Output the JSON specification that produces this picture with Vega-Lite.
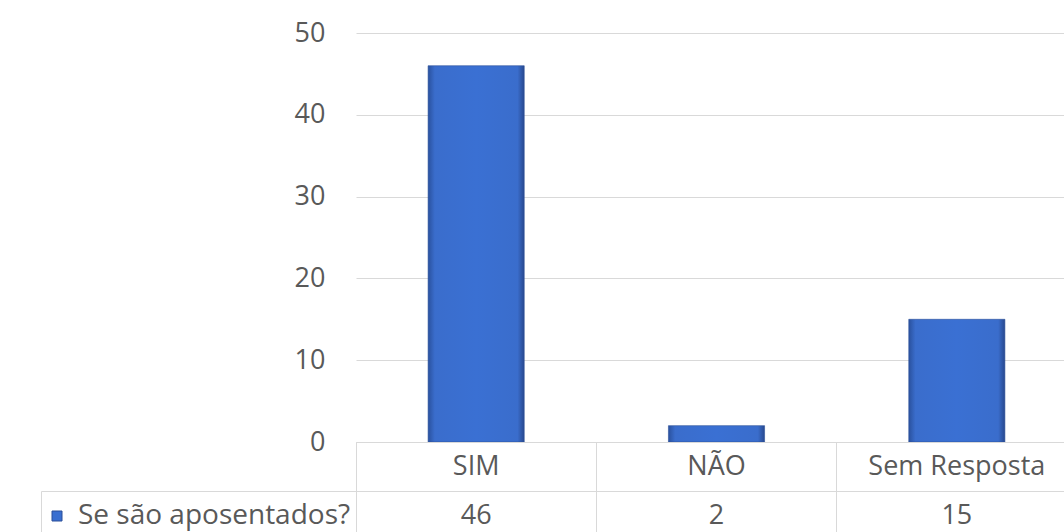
{
  "$schema": "https://vega.github.io/schema/vega-lite/v6.json",
  "background": "white",
  "padding": {"left": 40, "top": 19, "right": 0, "bottom": 0},
  "autosize": {"type": "pad"},
  "bounds": "flush",
  "columns": 2,
  "spacing": 0,
  "config": {"font": "Open Sans", "view": {"stroke": "#d9d9d9"}},
  "datasets": {
    "d": [
      {"cat": "SIM", "n": 46},
      {"cat": "NÃO", "n": 2},
      {"cat": "Sem Resposta", "n": 15}
    ]
  },
  "resolve": {"scale": {"color": "independent"}, "legend": {"color": "independent"}},
  "concat": [
    {
      "width": 315, "height": 409,
      "view": {"stroke": null},
      "data": {"values": []},
      "mark": "point",
      "encoding": {}
    },
    {
      "width": 721, "height": 409,
      "view": {"stroke": null},
      "data": {"name": "d"},
      "layer": [
        {
          "mark": {
            "type": "bar",
            "fill": {
              "gradient": "linear", "x1": 0, "y1": 0, "x2": 1, "y2": 0,
              "stops": [
                {"offset": 0, "color": "#2a519e"},
                {"offset": 0.07, "color": "#3a6dcc"},
                {"offset": 0.5, "color": "#3a70d3"},
                {"offset": 0.93, "color": "#3a6dcc"},
                {"offset": 1, "color": "#28498f"}
              ]
            },
            "stroke": "#2a4f99",
            "strokeWidth": 0.6
          },
          "encoding": {
            "x": {"field": "cat", "type": "nominal", "sort": null,
                  "scale": {"type": "band", "paddingInner": 0.6, "paddingOuter": 0.3}, "axis": null},
            "y": {"field": "n", "type": "quantitative",
                  "scale": {"domain": [0, 50]},
                  "axis": {"values": [0, 10, 20, 30, 40, 50], "grid": true, "gridColor": "#d9d9d9",
                           "domain": false, "ticks": false, "labelPadding": 31, "labelFontSize": 27,
                           "labelColor": "#595959", "labelFont": "Open Sans", "title": null}}
          }
        },
        {
          "mark": {"type": "point", "opacity": 0, "filled": true, "shape": "square"},
          "encoding": {
            "color": {"datum": "Se são aposentados?", "type": "nominal",
                      "scale": {"range": ["#3a6fd0"]},
                      "legend": {"title": null, "orient": "none", "legendX": -313, "legendY": 469,
                                 "symbolType": "square", "symbolSize": 100, "symbolOpacity": 1,
                                 "symbolStrokeColor": "#2a4f99", "symbolStrokeWidth": 1,
                                 "labelFontSize": 28, "labelColor": "#595959", "labelFont": "Open Sans",
                                 "labelOffset": 7, "labelLimit": 400}}
          }
        }
      ]
    },
    {
      "width": 315, "height": 49,
      "view": {"stroke": null},
      "data": {"values": []},
      "mark": "point",
      "encoding": {}
    },
    {
      "width": 721, "height": 49,
      "data": {"name": "d"},
      "mark": {"type": "text", "fontSize": 27, "color": "#595959", "font": "Open Sans"},
      "encoding": {
        "x": {"field": "cat", "type": "nominal", "sort": null,
              "scale": {"type": "band", "paddingInner": 0, "paddingOuter": 0},
              "axis": {"grid": true, "bandPosition": 0, "gridColor": "#d9d9d9", "labels": false,
                       "ticks": false, "domain": false, "title": null}},
        "text": {"field": "cat"}
      }
    },
    {
      "width": 315, "height": 49,
      "view": {"stroke": "#d9d9d9"},
      "data": {"name": "d"},
      "mark": {"type": "point", "opacity": 0},
      "encoding": {}
    },
    {
      "width": 721, "height": 49,
      "data": {"name": "d"},
      "mark": {"type": "text", "fontSize": 27, "color": "#595959", "font": "Open Sans"},
      "encoding": {
        "x": {"field": "cat", "type": "nominal", "sort": null,
              "scale": {"type": "band", "paddingInner": 0, "paddingOuter": 0},
              "axis": {"grid": true, "bandPosition": 0, "gridColor": "#d9d9d9", "labels": false,
                       "ticks": false, "domain": false, "title": null}},
        "text": {"field": "n"}
      }
    }
  ]
}
